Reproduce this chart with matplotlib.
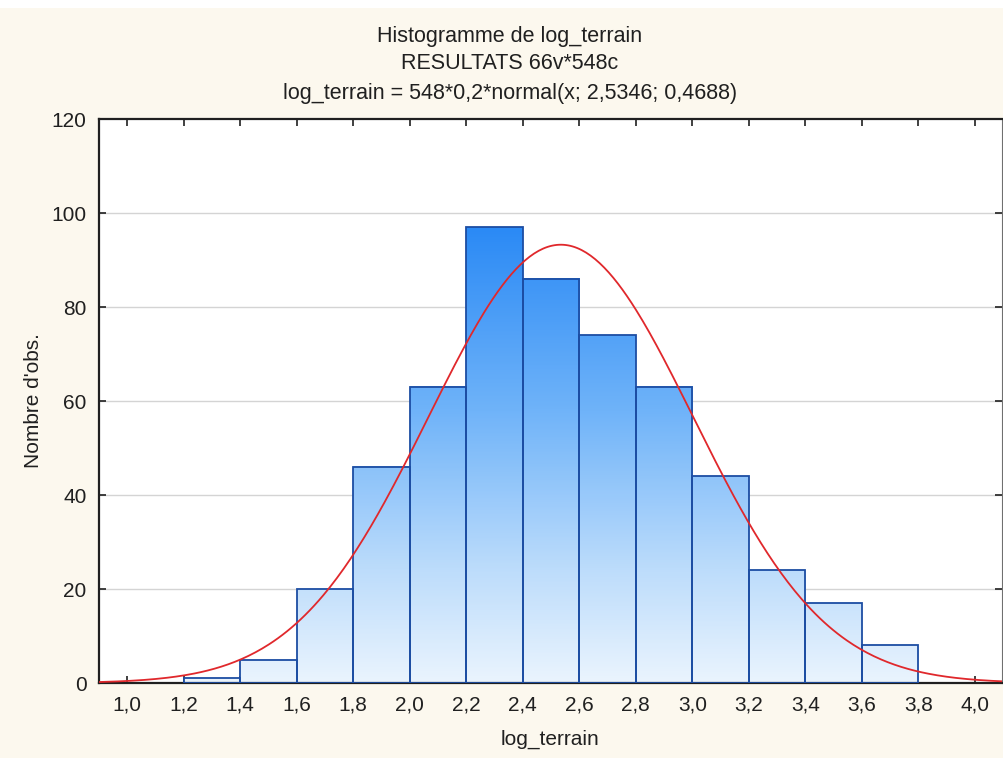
import numpy as np
import matplotlib
matplotlib.use("Agg")
import matplotlib.pyplot as plt
from matplotlib.colors import LinearSegmentedColormap
from matplotlib.patches import Rectangle

plt.rcParams['font.family'] = ['Liberation Sans', 'DejaVu Sans']

# histogram of log_terrain, class width 0.2
bin_left = [1.2, 1.4, 1.6, 1.8, 2.0, 2.2, 2.4, 2.6, 2.8, 3.0, 3.2, 3.4, 3.6]
counts = [1, 5, 20, 46, 63, 97, 86, 74, 63, 44, 24, 17, 8]
bin_width = 0.2

# fitted normal: n * width * normal(x; mu, sigma)
n_obs = 548
mu = 2.5346
sigma = 0.4688

xtick_vals = [1.0, 1.2, 1.4, 1.6, 1.8, 2.0, 2.2, 2.4, 2.6, 2.8, 3.0, 3.2, 3.4, 3.6, 3.8, 4.0]
ytick_vals = [0, 20, 40, 60, 80, 100, 120]

bg = '#fcf8ee'
fig = plt.figure(figsize=(10.04, 7.58), dpi=100, facecolor=bg)
# thin white band along the top edge
fig.patches.append(Rectangle((0, 0.99), 1, 0.01, transform=fig.transFigure,
                             facecolor='white', edgecolor='none', zorder=0))
ax = fig.add_axes([0.0986, 0.0989, 0.8994, 0.744])
ax.set_facecolor('white')

cmap = LinearSegmentedColormap.from_list(
    'bleu', [(0.0, '#eaf4fe'), (0.25, '#bcdcfb'), (0.6, '#6fb3f9'), (1.0, '#2b8af5')])
top = max(counts)
for x0, h in zip(bin_left, counts):
    grad = np.linspace(h, 0, 200).reshape(-1, 1)
    ax.imshow(grad, extent=(x0, x0 + bin_width, 0, h), cmap=cmap, vmin=0, vmax=top,
              aspect='auto', interpolation='bilinear', zorder=2)
    ax.add_patch(Rectangle((x0, 0), bin_width, h, facecolor='none',
                           edgecolor='#1c4da3', linewidth=1.3, zorder=3))

xs = np.linspace(0.9, 4.1, 400)
ys = n_obs * bin_width * np.exp(-0.5 * ((xs - mu) / sigma) ** 2) / (sigma * np.sqrt(2 * np.pi))
ax.plot(xs, ys, color='#e0282c', linewidth=1.3, zorder=4)

ax.set_xlim(0.9, 4.096)
ax.set_ylim(0, 120)
ax.set_xticks(xtick_vals)
ax.set_xticklabels([('%.1f' % v).replace('.', ',') for v in xtick_vals])
ax.set_yticks(ytick_vals)
for v in ytick_vals[1:-1]:
    ax.axhline(v, color='#d4d4d4', linewidth=1.0, zorder=1)

ax.tick_params(direction='in', length=5, width=1.2, top=True, right=True,
               labelsize=15, colors='#202020', pad=9)
for side in ['left', 'bottom', 'top']:
    ax.spines[side].set_linewidth(1.6)
    ax.spines[side].set_color('#202020')
ax.spines['right'].set_color('#707070')

ax.set_xlabel('log_terrain', fontsize=15, color='#202020', labelpad=11)
ax.set_ylabel("Nombre d'obs.", fontsize=15, color='#202020', labelpad=6)

title_lines = ['Histogramme de log_terrain', 'RESULTATS 66v*548c',
               'log_terrain = 548*0,2*normal(x; 2,5346; 0,4688)']
for y, line in zip([0.952, 0.916, 0.877], title_lines):
    fig.text(0.508, y, line, ha='center', va='center', fontsize=15.5, color='#202020')

fig.savefig('out.png', dpi=100, facecolor=bg)
